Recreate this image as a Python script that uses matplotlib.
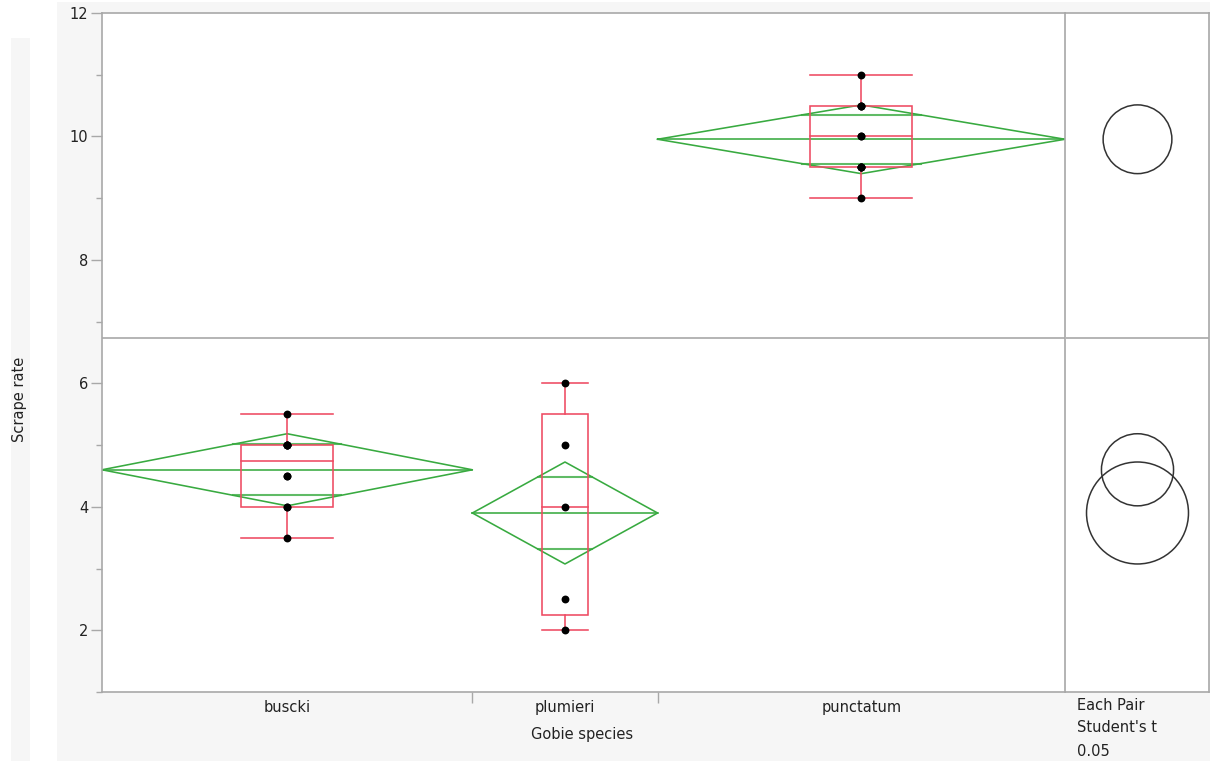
import numpy as np
import matplotlib
matplotlib.use("Agg")
import matplotlib.pyplot as plt
from matplotlib.patches import Rectangle, Circle

# scrape rate observations per goby species
species = ["buscki", "plumieri", "punctatum"]
buscki = [3.5, 4, 4, 4.5, 4.5, 5, 5, 5, 5, 5.5]
plumieri = [2, 2.5, 4, 5, 6]
punctatum = [9, 9.5, 9.5, 9.5, 9.5, 10, 10, 10.5, 10.5, 10.5, 11]
groups = [buscki, plumieri, punctatum]
t_crit = 2.069  # Student's t, alpha = 0.05, 23 df

green = "#38aa40"
red = "#ee4a62"
frame = "#a8a8a8"
txt = "#222222"
panel_bg = "#f6f6f6"

ns = [len(g) for g in groups]
means = [np.mean(g) for g in groups]
grand_mean = np.mean(np.concatenate(groups))
sse = sum(((np.array(g) - np.mean(g)) ** 2).sum() for g in groups)
rmse = np.sqrt(sse / (sum(ns) - len(groups)))
half = [t_crit * rmse / np.sqrt(n) for n in ns]

# category widths proportional to group size
edges = np.concatenate([[0], np.cumsum(ns)])
centers = (edges[:-1] + edges[1:]) / 2

W, H = 1210, 761
fig = plt.figure(figsize=(W / 100, H / 100), dpi=100, facecolor="white")
fig.patches.append(Rectangle((57 / W, 0), 1 - 57 / W, 1 - 2 / H, transform=fig.transFigure,
                             facecolor=panel_bg, edgecolor="none", zorder=-10))
fig.patches.append(Rectangle((11 / W, 0), 19 / W, 1 - 38 / H, transform=fig.transFigure,
                             facecolor=panel_bg, edgecolor="none", zorder=-10))

ax = fig.add_axes([102 / W, 1 - 692 / H, (1065 - 102) / W, (692 - 13) / H])
cx = fig.add_axes([1066 / W, 1 - 692 / H, (1209 - 1066) / W, (692 - 13) / H])

lw = 1.15
for i, g in enumerate(groups):
    left, right, c = edges[i], edges[i + 1], centers[i]
    m, h = means[i], half[i]

    # means diamond with overlap marks
    ax.plot([left, c, right, c, left], [m, m + h, m, m - h, m], color=green, lw=lw, zorder=2)
    ax.plot([left, right], [m, m], color=green, lw=lw, zorder=2)
    d = h / np.sqrt(2)
    hw = (right - left) / 2 * (1 - 1 / np.sqrt(2))
    for y in (m + d, m - d):
        ax.plot([c - hw, c + hw], [y, y], color=green, lw=lw * 1.3, alpha=0.8, zorder=2)

    # box plot
    q1, med, q3 = np.percentile(g, [25, 50, 75], method="weibull")
    bw = (right - left) * 0.25
    ax.add_patch(Rectangle((c - bw / 2, q1), bw, q3 - q1, fill=False, edgecolor=red, lw=lw, zorder=3))
    ax.plot([c - bw / 2, c + bw / 2], [med, med], color=red, lw=lw, zorder=3)
    ax.plot([c, c], [q3, max(g)], color=red, lw=lw, zorder=3)
    ax.plot([c, c], [min(g), q1], color=red, lw=lw, zorder=3)
    for y in (min(g), max(g)):
        ax.plot([c - bw / 2, c + bw / 2], [y, y], color=red, lw=lw, zorder=3)

    ax.scatter([c] * len(g), g, s=32, color="black", zorder=4, linewidths=0)

ax.axhline(grand_mean, color=frame, lw=1.2, zorder=1)
cx.axhline(grand_mean, color=frame, lw=1.2, zorder=1)

ax.set_xlim(edges[0], edges[-1])
ax.set_ylim(1, 12)
ax.set_yticks(range(2, 13, 2))
ax.set_yticks(range(1, 12, 2), minor=True)
ax.set_xticks(centers)
ax.set_xticklabels(species)
ax.set_xticks(edges[1:-1], minor=True)
ax.tick_params(axis="y", which="major", length=8, width=1, color=frame, labelsize=10.5,
               labelcolor=txt, pad=2)
ax.tick_params(axis="y", which="minor", length=4, width=1, color=frame)
ax.tick_params(axis="x", which="major", length=0, labelsize=10.5, labelcolor=txt, pad=6)
ax.tick_params(axis="x", which="minor", length=8, width=1, color=frame)
for sp in ax.spines.values():
    sp.set_color(frame)
    sp.set_linewidth(1.2)

# comparison circles, drawn to the same vertical scale
cx.set_ylim(1, 12)
half_w = (1209 - 1066) / 2 * 11 / (692 - 13)
cx.set_xlim(-half_w, half_w)
for m, h in zip(means, half):
    cx.add_patch(Circle((0, m), h, fill=False, edgecolor="#333333", lw=1.1, zorder=3))
cx.set_xticks([])
cx.set_yticks([])
for sp in cx.spines.values():
    sp.set_color(frame)
    sp.set_linewidth(1.2)
cx.spines["left"].set_visible(False)

fig.text(582 / W, 1 - 735 / H, "Gobie species", ha="center", va="center", fontsize=10.5, color=txt)
fig.text(20 / W, 1 - 399 / H, "Scrape rate", ha="center", va="center", rotation=90,
         fontsize=10.5, color=txt)
for y, s in zip([705, 728, 751], ["Each Pair", "Student's t", "0.05"]):
    fig.text(1077 / W, 1 - y / H, s, ha="left", va="center", fontsize=10.5, color=txt)

fig.savefig("out.png", dpi=100, facecolor="white")
